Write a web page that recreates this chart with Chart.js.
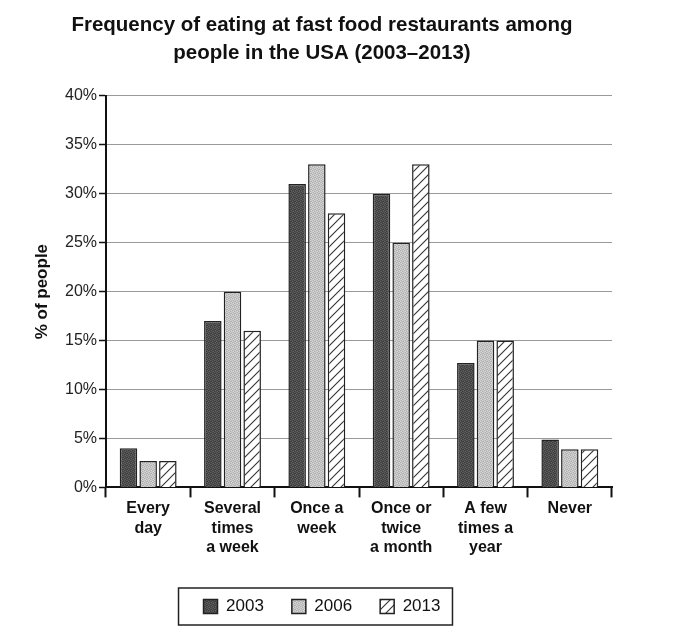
<!DOCTYPE html>
<html>
<head>
<meta charset="utf-8">
<script src="https://cdn.jsdelivr.net/npm/chart.js@4.4.0/dist/chart.umd.min.js"></script>
<style>
  html, body { margin: 0; padding: 0; background: #fff; }
  #wrap { width: 678px; height: 644px; position: relative; }
</style>
</head>
<body>
<div id="wrap"><canvas id="freqChart"></canvas></div>
<script>
const categories = [
    ['Every', 'day'],
    ['Several', 'times', 'a week'],
    ['Once a', 'week'],
    ['Once or', 'twice', 'a month'],
    ['A few', 'times a', 'year'],
    ['Never']
];
const years = ['2003', '2006', '2013'];
const values2003 = [4, 17, 31, 30, 12.7, 4.9];
const values2006 = [2.7, 20, 33, 25, 15, 3.9];
const values2013 = [2.7, 16, 28, 33, 15, 3.9];
const yTicks = [0, 5, 10, 15, 20, 25, 30, 35, 40];

const FONT = 'Arial, "Liberation Sans", Helvetica, sans-serif';

// small fixed dither so the greys look like the printed fills
function dotPattern(base, dark, light) {
    const c = document.createElement('canvas');
    c.width = c.height = 4;
    const ctx = c.getContext('2d');
    const map = ['0120', '2011', '1002', '0210'];
    const cols = [base, dark, light];
    for (let y = 0; y < 4; y++) {
        for (let x = 0; x < 4; x++) {
            ctx.fillStyle = cols[+map[y][x]];
            ctx.fillRect(x, y, 1, 1);
        }
    }
    return ctx.createPattern(c, 'repeat');
}

function hatchPattern() {
    const s = 9;
    const c = document.createElement('canvas');
    c.width = c.height = s;
    const ctx = c.getContext('2d');
    ctx.fillStyle = '#fff';
    ctx.fillRect(0, 0, s, s);
    ctx.strokeStyle = '#333';
    ctx.lineWidth = 1.1;
    ctx.beginPath();
    ctx.moveTo(-1, s + 1); ctx.lineTo(s + 1, -1);
    ctx.moveTo(-2, 2); ctx.lineTo(2, -2);
    ctx.moveTo(s - 2, s + 2); ctx.lineTo(s + 2, s - 2);
    ctx.stroke();
    return ctx.createPattern(c, 'repeat');
}

// draw a frame around the legend items like the printed key
const legendFrame = {
    id: 'legendFrame',
    afterDraw(chart) {
        const boxes = chart.legend.legendHitBoxes;
        if (!boxes || !boxes.length) return;
        const left = Math.min(...boxes.map(b => b.left)) - 25;
        const right = Math.max(...boxes.map(b => b.left + b.width)) + 12;
        const top = boxes[0].top - 10;
        const bottom = boxes[0].top + boxes[0].height + 10;
        const ctx = chart.ctx;
        ctx.save();
        ctx.strokeStyle = '#222';
        ctx.lineWidth = 1.5;
        ctx.strokeRect(left, top, right - left, bottom - top);
        ctx.restore();
    }
};

new Chart(document.getElementById('freqChart'), {
    type: 'bar',
    data: {
        labels: categories,
        datasets: [
            { label: years[0], data: values2003, backgroundColor: dotPattern('#4e4e4e', '#3c3c3c', '#626262') },
            { label: years[1], data: values2006, backgroundColor: dotPattern('#c4c4c4', '#b0b0b0', '#d8d8d8') },
            { label: years[2], data: values2013, backgroundColor: hatchPattern() }
        ]
    },
    options: {
        responsive: true,
        maintainAspectRatio: false,
        animation: false,
        layout: { padding: { left: 32, right: 66, top: 0, bottom: 19 } },
        datasets: {
            bar: {
                borderColor: '#222',
                borderWidth: 1.5,
                categoryPercentage: 0.7,
                barPercentage: 0.89
            }
        },
        plugins: {
            title: {
                display: true,
                text: ['Frequency of eating at fast food restaurants among', 'people in the USA (2003\u20132013)'],
                color: '#111',
                font: { family: FONT, size: 20.5, weight: 'bold', lineHeight: 1.35 },
                padding: { top: 12, bottom: 28.5 }
            },
            legend: {
                position: 'bottom',
                labels: {
                    color: '#111',
                    font: { family: FONT, size: 17 },
                    boxWidth: 14,
                    boxHeight: 14,
                    padding: 28
                }
            },
            tooltip: { enabled: false }
        },
        scales: {
            x: {
                afterFit(scale) { scale.height += 11; },
                border: { color: '#111', width: 2 },
                grid: {
                    drawOnChartArea: false,
                    drawTicks: true,
                    tickLength: 10,
                    tickColor: '#111',
                    tickWidth: 2
                },
                ticks: {
                    color: '#111',
                    padding: 2,
                    maxRotation: 0,
                    autoSkip: false,
                    font: { family: FONT, size: 16, weight: 'bold', lineHeight: 1.2 }
                }
            },
            y: {
                min: 0,
                max: 40,
                afterBuildTicks(scale) {
                    scale.ticks = yTicks.map(v => ({ value: v }));
                },
                afterFit(scale) { scale.width = 74; },
                border: { color: '#111', width: 2 },
                grid: {
                    color: '#9a9a9a',
                    lineWidth: 1,
                    tickColor: '#111',
                    tickLength: 7,
                    tickWidth: 1.5
                },
                ticks: {
                    color: '#222',
                    padding: 2,
                    font: { family: FONT, size: 16 },
                    callback: v => v + '%'
                },
                title: {
                    display: true,
                    text: '% of people',
                    color: '#111',
                    padding: { top: 0, bottom: 0 },
                    font: { family: FONT, size: 17, weight: 'bold' }
                }
            }
        }
    },
    plugins: [legendFrame]
});
</script>
</body>
</html>
